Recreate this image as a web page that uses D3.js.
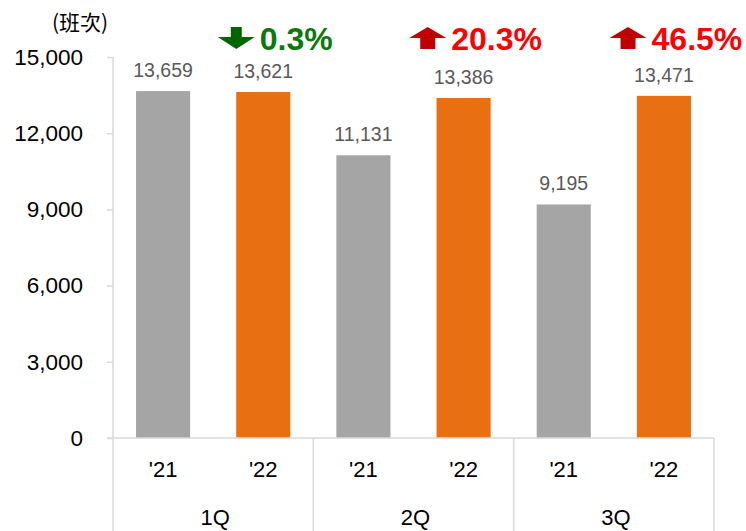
<!DOCTYPE html>
<html>
<head>
<meta charset="utf-8">
<script src="https://cdn.jsdelivr.net/npm/d3@7"></script>
<style>
html,body{margin:0;padding:0;background:#fff;}
svg{display:block;}
</style>
</head>
<body>
<svg id="chart" width="746" height="531"></svg>
<script>
const quarters = ["1Q", "2Q", "3Q"];
const years = ["'21", "'22"];
const values21 = [13659, 11131, 9195];
const values22 = [13621, 13386, 13471];
const changes = ["0.3%", "20.3%", "46.5%"];
const directions = ["down", "up", "up"];
const yTicks = [0, 3000, 6000, 9000, 12000, 15000];
const unitLabel = "(班次)";

const colors = {"'21": "#a5a5a5", "'22": "#e97012"};
const axisColor = "#d9d9d9";
const font = "'Liberation Sans', Arial, sans-serif";

const svg = d3.select("#chart");
const plotLeft = 113, plotRight = 714, plotTop = 57, plotBottom = 438;

const y = d3.scaleLinear().domain([0, 15000]).range([plotBottom, plotTop]);
const xq = d3.scaleBand().domain(quarters).range([plotLeft, plotRight]).padding(0);
const xy = d3.scaleBand().domain(years).range([0, xq.bandwidth()]).paddingInner(0.46).paddingOuter(0.23);

const data = quarters.flatMap((q, i) => [
  {q, yr: years[0], v: values21[i]},
  {q, yr: years[1], v: values22[i]}
]);

// y axis
const yAxis = d3.axisLeft(y).tickValues(yTicks).tickSize(6).tickPadding(24)
  .tickFormat(d3.format(","));
const gy = svg.append("g").attr("transform", `translate(${plotLeft},0)`).call(yAxis);
gy.select(".domain").attr("stroke", axisColor).attr("stroke-width", 1.5).attr("d", `M0,${plotTop}V${plotBottom}`);
gy.selectAll(".tick line").attr("stroke", axisColor).attr("stroke-width", 1.5);
gy.selectAll(".tick text").attr("font-family", font).attr("font-size", 22.5).attr("fill", "#000");

// bars
svg.append("g").selectAll("rect").data(data).join("rect")
  .attr("x", d => xq(d.q) + xy(d.yr))
  .attr("y", d => y(d.v))
  .attr("width", xy.bandwidth())
  .attr("height", d => y(0) - y(d.v))
  .attr("fill", d => colors[d.yr]);

// value labels
svg.append("g").selectAll("text").data(data).join("text")
  .attr("x", d => xq(d.q) + xy(d.yr) + xy.bandwidth() / 2)
  .attr("y", d => y(d.v) - 14)
  .attr("text-anchor", "middle")
  .attr("font-family", font).attr("font-size", 19.5).attr("fill", "#595959")
  .text(d => d3.format(",")(d.v));

// x axis line
svg.append("line").attr("x1", plotLeft - 6).attr("x2", plotRight).attr("y1", plotBottom).attr("y2", plotBottom)
  .attr("stroke", axisColor).attr("stroke-width", 1.5);
// group separators
const seps = quarters.map(q => xq(q)).concat([xq(quarters[quarters.length - 1]) + xq.bandwidth()]);
svg.append("g").selectAll("line").data(seps).join("line")
  .attr("x1", d => d).attr("x2", d => d).attr("y1", plotBottom).attr("y2", 531)
  .attr("stroke", axisColor).attr("stroke-width", 1.5);

// year labels
svg.append("g").selectAll("text").data(data).join("text")
  .attr("x", d => xq(d.q) + xy(d.yr) + xy.bandwidth() / 2)
  .attr("y", 477)
  .attr("text-anchor", "middle")
  .attr("font-family", font).attr("font-size", 22).attr("fill", "#000")
  .text(d => d.yr);

// quarter labels
svg.append("g").selectAll("text").data(quarters).join("text")
  .attr("x", d => xq(d) + xq.bandwidth() / 2 + 2)
  .attr("y", 525)
  .attr("text-anchor", "middle")
  .attr("font-family", font).attr("font-size", 22).attr("fill", "#000")
  .text(d => d);

// unit label
svg.append("text").attr("x", 52).attr("y", 30)
  .attr("font-family", "'Noto Sans CJK TC', 'Noto Sans CJK SC', sans-serif")
  .attr("font-size", 21).attr("fill", "#000").text(unitLabel);

// change annotations (arrow + text group centred a little right of the '22 bar)
const ann = svg.append("g");
quarters.forEach((q, i) => {
  const barCenter = xq(q) + xy(years[1]) + xy.bandwidth() / 2;
  const down = directions[i] === "down";
  const arrowCol = down ? "#006600" : "#c00000";
  const textCol = down ? "#0a7a0a" : "#ff0000";
  const aw = 37, ah = 22, gap = 5;
  const t = ann.append("text").attr("y", 50)
    .attr("font-family", font).attr("font-weight", "bold").attr("font-size", 32)
    .attr("fill", textCol).text(changes[i]);
  const tw = t.node().getComputedTextLength();
  const total = aw + gap + tw;
  let ax = barCenter + 12 - total / 2;
  ax = Math.min(ax, 744 - total);
  t.attr("x", ax + aw + gap);
  let path;
  if (down) {
    path = `M${ax + 13},27 H${ax + 24} V37 H${ax + aw} L${ax + aw / 2},${27 + ah} L${ax},37 H${ax + 13} Z`;
  } else {
    path = `M${ax + aw / 2},27 L${ax + aw},38 H${ax + 26} V49 H${ax + 11} V38 H${ax} Z`;
  }
  ann.append("path").attr("d", path).attr("fill", arrowCol);
});
</script>
</body>
</html>
